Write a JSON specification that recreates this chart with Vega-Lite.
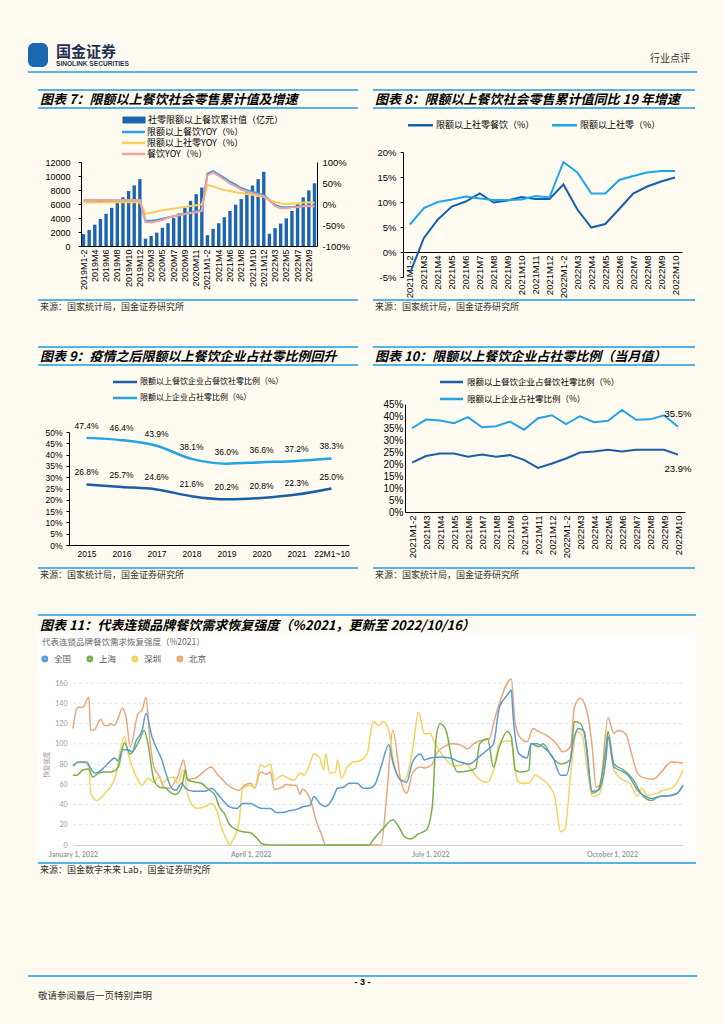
{
"$schema": "https://vega.github.io/schema/vega-lite/v6.json",
"background": "#fffbf0",
"padding": {"left": 28, "top": 43, "right": 27, "bottom": 25},
"spacing": 0,
"resolve": {"scale": {"color": "independent", "fill": "independent", "stroke": "independent"}, "legend": {"color": "independent", "fill": "independent", "stroke": "independent"}},
"config": {
  "view": {"stroke": null},
  "axis": {"grid": false, "labelFont": "Liberation Sans", "labelColor": "#000", "domainColor": "#000", "tickColor": "#000", "titleFont": "Noto Sans CJK SC"},
  "legend": {"labelFont": "Noto Sans CJK SC", "labelColor": "#000", "padding": 0},
  "title": {"font": "Noto Sans CJK SC"}
},
"vconcat": [
  {"spacing": 3, "vconcat": [
    {"spacing": 8, "hconcat": [
      {"width": 20, "height": 24, "view": {"fill": "#1b67b2", "cornerRadius": 6}, "data": {"values": []}, "mark": "point", "encoding": {}},
      {"width": 100, "height": 1, "data": {"values": []}, "mark": "point", "encoding": {},
       "title": {"text": "国金证券", "subtitle": "SINOLINK SECURITIES", "orient": "bottom", "anchor": "start", "frame": "group", "offset": 1, "fontSize": 15, "fontWeight": "bold", "color": "#1d2f55", "subtitleFont": "Liberation Sans", "subtitleFontSize": 6.6, "subtitleFontWeight": "bold", "subtitleColor": "#1d2f55", "subtitlePadding": 1}},
      {"width": 526, "height": 10, "data": {"values": []}, "mark": "point", "encoding": {},
       "title": {"text": "行业点评", "orient": "bottom", "anchor": "end", "frame": "group", "offset": 1, "fontSize": 10, "fontWeight": "normal", "color": "#333"}}
    ]},
    {"width": 669, "height": 2, "view": {"fill": "#52b4e8"}, "data": {"values": []}, "mark": "point", "encoding": {}}
  ]},
  {"width": 1, "height": 16, "data": {"values": []}, "mark": "point", "encoding": {}},
  {"columns": 4, "align": "each", "spacing": {"row": 0, "column": 0},
   "resolve": {"scale": {"color": "independent", "fill": "independent", "stroke": "independent"}, "legend": {"color": "independent", "fill": "independent", "stroke": "independent"}},
   "concat": [
    {"width": 10, "height": 1, "data": {"values": []}, "mark": "point", "encoding": {}},
    {"width": 320, "height": 2, "view": {"fill": "#52b4e8"}, "data": {"values": []}, "mark": "point", "encoding": {},
     "title": {"text": "图表 7：限额以上餐饮社会零售累计值及增速", "orient": "bottom", "anchor": "start", "frame": "group", "offset": 3, "fontSize": 13, "fontWeight": "bold", "fontStyle": "italic", "color": "#000", "dx": 2}},
    {"width": 15, "height": 1, "data": {"values": []}, "mark": "point", "encoding": {}},
    {"width": 322, "height": 2, "view": {"fill": "#52b4e8"}, "data": {"values": []}, "mark": "point", "encoding": {},
     "title": {"text": "图表 8：限额以上餐饮社会零售累计值同比 19 年增速", "orient": "bottom", "anchor": "start", "frame": "group", "offset": 3, "fontSize": 13, "fontWeight": "bold", "fontStyle": "italic", "color": "#000", "dx": 2}},
    {"width": 10, "height": 1, "data": {"values": []}, "mark": "point", "encoding": {}},
    {"width": 320, "height": 2, "view": {"fill": "#52b4e8"}, "data": {"values": []}, "mark": "point", "encoding": {}},
    {"width": 15, "height": 1, "data": {"values": []}, "mark": "point", "encoding": {}},
    {"width": 322, "height": 2, "view": {"fill": "#52b4e8"}, "data": {"values": []}, "mark": "point", "encoding": {}},
    {"width": 10, "height": 1, "data": {"values": []}, "mark": "point", "encoding": {}},
    {"width": 279, "height": 190,
     "data": {"values": [
      {"m":"2019M1-2","v":1700,"限额以上餐饮YOY（%）":7.9,"限额以上社零YOY（%）":3.9,"餐饮YOY（%）":9.7},
      {"m":"2019M3","v":2300,"限额以上餐饮YOY（%）":7.6,"限额以上社零YOY（%）":3.8,"餐饮YOY（%）":9.6},
      {"m":"2019M4","v":3050,"限额以上餐饮YOY（%）":7.5,"限额以上社零YOY（%）":3.6,"餐饮YOY（%）":9.5},
      {"m":"2019M5","v":3850,"限额以上餐饮YOY（%）":7.4,"限额以上社零YOY（%）":3.8,"餐饮YOY（%）":9.5},
      {"m":"2019M6","v":4600,"限额以上餐饮YOY（%）":7.3,"限额以上社零YOY（%）":4.2,"餐饮YOY（%）":9.4},
      {"m":"2019M7","v":5450,"限额以上餐饮YOY（%）":7.3,"限额以上社零YOY（%）":4.0,"餐饮YOY（%）":9.4},
      {"m":"2019M8","v":6250,"限额以上餐饮YOY（%）":7.2,"限额以上社零YOY（%）":4.0,"餐饮YOY（%）":9.4},
      {"m":"2019M9","v":6950,"限额以上餐饮YOY（%）":7.2,"限额以上社零YOY（%）":4.0,"餐饮YOY（%）":9.4},
      {"m":"2019M10","v":7850,"限额以上餐饮YOY（%）":7.2,"限额以上社零YOY（%）":4.2,"餐饮YOY（%）":9.4},
      {"m":"2019M11","v":8650,"限额以上餐饮YOY（%）":7.1,"限额以上社零YOY（%）":4.2,"餐饮YOY（%）":9.4},
      {"m":"2019M12","v":9550,"限额以上餐饮YOY（%）":7.1,"限额以上社零YOY（%）":4.0,"餐饮YOY（%）":9.4},
      {"m":"2020M1-2","v":1050,"限额以上餐饮YOY（%）":-40,"限额以上社零YOY（%）":-23,"餐饮YOY（%）":-43.1},
      {"m":"2020M3","v":1430,"限额以上餐饮YOY（%）":-40,"限额以上社零YOY（%）":-21,"餐饮YOY（%）":-44.3},
      {"m":"2020M4","v":1900,"限额以上餐饮YOY（%）":-38,"限额以上社零YOY（%）":-18,"餐饮YOY（%）":-41.3},
      {"m":"2020M5","v":2600,"限额以上餐饮YOY（%）":-35,"限额以上社零YOY（%）":-15,"餐饮YOY（%）":-38.2},
      {"m":"2020M6","v":3250,"限额以上餐饮YOY（%）":-32,"限额以上社零YOY（%）":-13,"餐饮YOY（%）":-32.8},
      {"m":"2020M7","v":4000,"限额以上餐饮YOY（%）":-29,"限额以上社零YOY（%）":-11,"餐饮YOY（%）":-29.6},
      {"m":"2020M8","v":4650,"限额以上餐饮YOY（%）":-26,"限额以上社零YOY（%）":-9,"餐饮YOY（%）":-26.6},
      {"m":"2020M9","v":5450,"限额以上餐饮YOY（%）":-23,"限额以上社零YOY（%）":-7,"餐饮YOY（%）":-23.9},
      {"m":"2020M10","v":6450,"限额以上餐饮YOY（%）":-20,"限额以上社零YOY（%）":-5,"餐饮YOY（%）":-21.2},
      {"m":"2020M11","v":7400,"限额以上餐饮YOY（%）":-17,"限额以上社零YOY（%）":-3,"餐饮YOY（%）":-19.6},
      {"m":"2020M12","v":8350,"限额以上餐饮YOY（%）":-14,"限额以上社零YOY（%）":-1,"餐饮YOY（%）":-16.6},
      {"m":"2021M1-2","v":1550,"限额以上餐饮YOY（%）":72,"限额以上社零YOY（%）":45,"餐饮YOY（%）":68.9},
      {"m":"2021M3","v":2450,"限额以上餐饮YOY（%）":78,"限额以上社零YOY（%）":42,"餐饮YOY（%）":75.2},
      {"m":"2021M4","v":3250,"限额以上餐饮YOY（%）":70,"限额以上社零YOY（%）":37,"餐饮YOY（%）":67.0},
      {"m":"2021M5","v":4100,"限额以上餐饮YOY（%）":62,"限额以上社零YOY（%）":33,"餐饮YOY（%）":58.1},
      {"m":"2021M6","v":5000,"限额以上餐饮YOY（%）":53,"限额以上社零YOY（%）":31,"餐饮YOY（%）":48.6},
      {"m":"2021M7","v":5900,"限额以上餐饮YOY（%）":46,"限额以上社零YOY（%）":28,"餐饮YOY（%）":42.3},
      {"m":"2021M8","v":6700,"限额以上餐饮YOY（%）":38,"限额以上社零YOY（%）":26,"餐饮YOY（%）":34.6},
      {"m":"2021M9","v":7700,"限额以上餐饮YOY（%）":33,"限额以上社零YOY（%）":24,"餐饮YOY（%）":29.8},
      {"m":"2021M10","v":8650,"限额以上餐饮YOY（%）":29,"限额以上社零YOY（%）":22,"餐饮YOY（%）":25.7},
      {"m":"2021M11","v":9550,"限额以上餐饮YOY（%）":25,"限额以上社零YOY（%）":19,"餐饮YOY（%）":22.4},
      {"m":"2021M12","v":10600,"限额以上餐饮YOY（%）":21,"限额以上社零YOY（%）":17,"餐饮YOY（%）":18.6},
      {"m":"2022M1-2","v":1750,"限额以上餐饮YOY（%）":10,"限额以上社零YOY（%）":9,"餐饮YOY（%）":8.9},
      {"m":"2022M3","v":2550,"限额以上餐饮YOY（%）":-2,"限额以上社零YOY（%）":5,"餐饮YOY（%）":-5.0},
      {"m":"2022M4","v":3200,"限额以上餐饮YOY（%）":-7,"限额以上社零YOY（%）":1,"餐饮YOY（%）":-10.2},
      {"m":"2022M5","v":3950,"限额以上餐饮YOY（%）":-8,"限额以上社零YOY（%）":0,"餐饮YOY（%）":-10.1},
      {"m":"2022M6","v":5000,"限额以上餐饮YOY（%）":-7,"限额以上社零YOY（%）":1,"餐饮YOY（%）":-7.7},
      {"m":"2022M7","v":5950,"限额以上餐饮YOY（%）":-6,"限额以上社零YOY（%）":2,"餐饮YOY（%）":-7.5},
      {"m":"2022M8","v":6950,"限额以上餐饮YOY（%）":-4.5,"限额以上社零YOY（%）":3.5,"餐饮YOY（%）":-5.6},
      {"m":"2022M9","v":7950,"限额以上餐饮YOY（%）":-4,"限额以上社零YOY（%）":4,"餐饮YOY（%）":-5.0},
      {"m":"2022M10","v":8950,"限额以上餐饮YOY（%）":-4.5,"限额以上社零YOY（%）":3,"餐饮YOY（%）":-5.8}
     ]},
     "encoding": {"x": {"field": "m", "type": "nominal", "sort": null, "scale": {"range": [43, 279], "paddingInner": 0.4, "paddingOuter": 0.15},
       "axis": {"title": null, "labelAngle": -90, "labelFontSize": 9, "labelPadding": 3, "ticks": false, "offset": -53,
         "values": ["2019M1-2","2019M4","2019M6","2019M8","2019M10","2019M12","2020M3","2020M5","2020M7","2020M9","2020M11","2021M1-2","2021M4","2021M6","2021M8","2021M10","2021M12","2022M3","2022M5","2022M7","2022M9"]}}},
     "layer": [
      {"mark": {"type": "bar"},
       "encoding": {
        "y": {"field": "v", "type": "quantitative", "scale": {"domain": [0, 12000], "nice": false, "range": [137, 53]},
          "axis": {"orient": "left", "offset": -43, "values": [0,2000,4000,6000,8000,10000,12000], "format": "d", "labelFontSize": 9, "tickSize": 3, "labelPadding": 8, "title": null}},
        "fill": {"datum": "社零限额以上餐饮累计值（亿元）", "scale": {"range": ["#1b65b1"]},
          "legend": {"orient": "none", "legendX": 91.5, "legendY": 6.5, "title": null, "symbolType": "M-3,-0.9H3V0.9H-3Z", "symbolSize": 59, "symbolStrokeWidth": 0, "labelFontSize": 9, "labelOffset": 9.5}}
       }},
      {"transform": [{"fold": ["限额以上餐饮YOY（%）", "限额以上社零YOY（%）", "餐饮YOY（%）"], "as": ["s", "p"]}],
       "mark": {"type": "line", "strokeWidth": 2},
       "encoding": {
        "y": {"field": "p", "type": "quantitative", "scale": {"domain": [-100, 100], "nice": false, "range": [137, 53]},
          "axis": {"orient": "right", "values": [-100,-50,0,50,100], "labelExpr": "datum.value + '%'", "labelFontSize": 9.5, "ticks": false, "labelPadding": 5, "title": null}},
        "stroke": {"field": "s", "type": "nominal", "scale": {"domain": ["限额以上餐饮YOY（%）", "限额以上社零YOY（%）", "餐饮YOY（%）"], "range": ["#2aa0e4", "#f6d05a", "#f2a09c"]},
          "legend": {"orient": "none", "legendX": 90, "legendY": 17.5, "title": null, "symbolType": "M-3,0H3", "symbolSize": 59, "symbolStrokeWidth": 2.5, "labelFontSize": 9, "labelOffset": 8, "rowPadding": 0}}
       }}
     ],
     "resolve": {"scale": {"y": "independent"}}
    },
    {"width": 15, "height": 1, "data": {"values": []}, "mark": "point", "encoding": {}},
    {"width": 309, "height": 190,
     "data": {"values": [
      {"m":"2021M1-2","限额以上社零餐饮（%）":-4.2,"限额以上社零（%）":5.5},
      {"m":"2021M3","限额以上社零餐饮（%）":2.8,"限额以上社零（%）":8.8},
      {"m":"2021M4","限额以上社零餐饮（%）":6.5,"限额以上社零（%）":10.0},
      {"m":"2021M5","限额以上社零餐饮（%）":9.1,"限额以上社零（%）":10.5},
      {"m":"2021M6","限额以上社零餐饮（%）":10.1,"限额以上社零（%）":11.1},
      {"m":"2021M7","限额以上社零餐饮（%）":11.7,"限额以上社零（%）":10.7},
      {"m":"2021M8","限额以上社零餐饮（%）":9.9,"限额以上社零（%）":10.4},
      {"m":"2021M9","限额以上社零餐饮（%）":10.3,"限额以上社零（%）":10.4},
      {"m":"2021M10","限额以上社零餐饮（%）":11.0,"限额以上社零（%）":10.5},
      {"m":"2021M11","限额以上社零餐饮（%）":10.6,"限额以上社零（%）":11.2},
      {"m":"2021M12","限额以上社零餐饮（%）":10.6,"限额以上社零（%）":10.9},
      {"m":"2022M1-2","限额以上社零餐饮（%）":13.5,"限额以上社零（%）":18.0},
      {"m":"2022M3","限额以上社零餐饮（%）":8.5,"限额以上社零（%）":15.9},
      {"m":"2022M4","限额以上社零餐饮（%）":4.9,"限额以上社零（%）":11.7},
      {"m":"2022M5","限额以上社零餐饮（%）":5.6,"限额以上社零（%）":11.7},
      {"m":"2022M6","限额以上社零餐饮（%）":8.6,"限额以上社零（%）":14.4},
      {"m":"2022M7","限额以上社零餐饮（%）":11.7,"限额以上社零（%）":15.2},
      {"m":"2022M8","限额以上社零餐饮（%）":13.1,"限额以上社零（%）":15.9},
      {"m":"2022M9","限额以上社零餐饮（%）":14.1,"限额以上社零（%）":16.2},
      {"m":"2022M10","限额以上社零餐饮（%）":14.9,"限额以上社零（%）":16.2}
     ]},
     "transform": [{"fold": ["限额以上社零餐饮（%）", "限额以上社零（%）"], "as": ["s", "p"]}],
     "mark": {"type": "line", "strokeWidth": 2},
     "encoding": {
      "x": {"field": "m", "type": "nominal", "sort": null, "scale": {"range": [30, 309], "padding": 0.5},
        "axis": {"title": null, "labelAngle": -90, "labelFontSize": 9.5, "labelPadding": 3, "ticks": false, "offset": -47}},
      "y": {"field": "p", "type": "quantitative", "scale": {"domain": [-5, 20], "nice": false, "range": [168, 43]},
        "axis": {"offset": -30, "values": [-5,0,5,10,15,20], "labelExpr": "datum.value + '%'", "labelFontSize": 9.5, "tickSize": 3, "labelPadding": 4, "title": null}},
      "stroke": {"field": "s", "type": "nominal", "scale": {"domain": ["限额以上社零餐饮（%）", "限额以上社零（%）"], "range": ["#1560ac", "#1ea6ea"]},
        "legend": {"orient": "none", "direction": "horizontal", "legendX": 42, "legendY": 10.5, "title": null, "symbolType": "M-3,0H3", "symbolSize": 69, "symbolStrokeWidth": 2.5, "labelFontSize": 9, "labelOffset": 10, "columnPadding": 12}}
     }
    },
    {"width": 10, "height": 1, "data": {"values": []}, "mark": "point", "encoding": {}},
    {"width": 320, "height": 2, "view": {"fill": "#52b4e8"}, "data": {"values": []}, "mark": "point", "encoding": {},
     "title": {"text": "来源：国家统计局，国金证券研究所", "orient": "bottom", "anchor": "start", "frame": "group", "offset": 2, "fontSize": 9, "fontWeight": "normal", "color": "#333", "dx": 2}},
    {"width": 15, "height": 1, "data": {"values": []}, "mark": "point", "encoding": {}},
    {"width": 322, "height": 2, "view": {"fill": "#52b4e8"}, "data": {"values": []}, "mark": "point", "encoding": {},
     "title": {"text": "来源：国家统计局，国金证券研究所", "orient": "bottom", "anchor": "start", "frame": "group", "offset": 2, "fontSize": 9, "fontWeight": "normal", "color": "#333", "dx": 2}}
  ]},
  {"width": 1, "height": 34, "data": {"values": []}, "mark": "point", "encoding": {}},
  {"columns": 4, "align": "each", "spacing": {"row": 0, "column": 0},
   "resolve": {"scale": {"color": "independent", "fill": "independent", "stroke": "independent"}, "legend": {"color": "independent", "fill": "independent", "stroke": "independent"}},
   "concat": [
    {"width": 10, "height": 1, "data": {"values": []}, "mark": "point", "encoding": {}},
    {"width": 320, "height": 2, "view": {"fill": "#52b4e8"}, "data": {"values": []}, "mark": "point", "encoding": {},
     "title": {"text": "图表 9：疫情之后限额以上餐饮企业占社零比例回升", "orient": "bottom", "anchor": "start", "frame": "group", "offset": 3, "fontSize": 13, "fontWeight": "bold", "fontStyle": "italic", "color": "#000", "dx": 2}},
    {"width": 15, "height": 1, "data": {"values": []}, "mark": "point", "encoding": {}},
    {"width": 322, "height": 2, "view": {"fill": "#52b4e8"}, "data": {"values": []}, "mark": "point", "encoding": {},
     "title": {"text": "图表 10：限额以上餐饮企业占社零比例（当月值）", "orient": "bottom", "anchor": "start", "frame": "group", "offset": 3, "fontSize": 13, "fontWeight": "bold", "fontStyle": "italic", "color": "#000", "dx": 2}},
    {"width": 10, "height": 1, "data": {"values": []}, "mark": "point", "encoding": {}},
    {"width": 320, "height": 2, "view": {"fill": "#52b4e8"}, "data": {"values": []}, "mark": "point", "encoding": {}},
    {"width": 15, "height": 1, "data": {"values": []}, "mark": "point", "encoding": {}},
    {"width": 322, "height": 2, "view": {"fill": "#52b4e8"}, "data": {"values": []}, "mark": "point", "encoding": {}},
    {"width": 10, "height": 1, "data": {"values": []}, "mark": "point", "encoding": {}},
    {"width": 320, "height": 201,
     "data": {"values": [
      {"y":"2015","限额以上餐饮企业占餐饮社零比例（%）":0.268,"限额以上企业占社零比例（%）":0.474},
      {"y":"2016","限额以上餐饮企业占餐饮社零比例（%）":0.257,"限额以上企业占社零比例（%）":0.464},
      {"y":"2017","限额以上餐饮企业占餐饮社零比例（%）":0.246,"限额以上企业占社零比例（%）":0.439},
      {"y":"2018","限额以上餐饮企业占餐饮社零比例（%）":0.216,"限额以上企业占社零比例（%）":0.381},
      {"y":"2019","限额以上餐饮企业占餐饮社零比例（%）":0.202,"限额以上企业占社零比例（%）":0.360},
      {"y":"2020","限额以上餐饮企业占餐饮社零比例（%）":0.208,"限额以上企业占社零比例（%）":0.366},
      {"y":"2021","限额以上餐饮企业占餐饮社零比例（%）":0.223,"限额以上企业占社零比例（%）":0.372},
      {"y":"22M1~10","限额以上餐饮企业占餐饮社零比例（%）":0.250,"限额以上企业占社零比例（%）":0.383}
     ]},
     "transform": [{"fold": ["限额以上餐饮企业占餐饮社零比例（%）", "限额以上企业占社零比例（%）"], "as": ["s", "p"]}],
     "encoding": {
      "x": {"field": "y", "type": "nominal", "sort": null, "scale": {"range": [31, 311], "padding": 0.5},
        "axis": {"title": null, "labelAngle": 0, "labelFontSize": 8.5, "labelPadding": 4, "ticks": false, "offset": -22}},
      "y": {"field": "p", "type": "quantitative", "scale": {"domain": [0, 0.5], "nice": false, "range": [179, 66]},
        "axis": {"offset": -31, "values": [0,0.05,0.1,0.15,0.2,0.25,0.3,0.35,0.4,0.45,0.5], "format": ".0%", "labelFontSize": 8.5, "tickSize": 3, "labelPadding": 4, "title": null}}
     },
     "layer": [
      {"mark": {"type": "line", "strokeWidth": 2.5, "interpolate": "monotone"},
       "encoding": {"stroke": {"field": "s", "type": "nominal", "scale": {"domain": ["限额以上餐饮企业占餐饮社零比例（%）", "限额以上企业占社零比例（%）"], "range": ["#1a5ea8", "#22a3e6"]},
         "legend": {"orient": "none", "legendX": 81.5, "legendY": 10.5, "title": null, "symbolType": "M-3,0H3", "symbolSize": 64, "symbolStrokeWidth": 2.5, "labelFontSize": 8, "labelOffset": 9.5, "rowPadding": 5}}}},
      {"mark": {"type": "text", "dy": -12, "fontSize": 8.5, "font": "Liberation Sans", "color": "#000"},
       "encoding": {"text": {"field": "p", "type": "quantitative", "format": ".1%"}}}
     ]
    },
    {"width": 15, "height": 1, "data": {"values": []}, "mark": "point", "encoding": {}},
    {"width": 322, "height": 201,
     "data": {"values": [
      {"m":"2021M1-2","限额以上餐饮企业占餐饮社零比例（%）":0.206,"限额以上企业占社零比例（%）":0.349},
      {"m":"2021M3","限额以上餐饮企业占餐饮社零比例（%）":0.233,"限额以上企业占社零比例（%）":0.385},
      {"m":"2021M4","限额以上餐饮企业占餐饮社零比例（%）":0.244,"限额以上企业占社零比例（%）":0.381},
      {"m":"2021M5","限额以上餐饮企业占餐饮社零比例（%）":0.244,"限额以上企业占社零比例（%）":0.370},
      {"m":"2021M6","限额以上餐饮企业占餐饮社零比例（%）":0.230,"限额以上企业占社零比例（%）":0.395},
      {"m":"2021M7","限额以上餐饮企业占餐饮社零比例（%）":0.240,"限额以上企业占社零比例（%）":0.353},
      {"m":"2021M8","限额以上餐饮企业占餐饮社零比例（%）":0.230,"限额以上企业占社零比例（%）":0.357},
      {"m":"2021M9","限额以上餐饮企业占餐饮社零比例（%）":0.237,"限额以上企业占社零比例（%）":0.377},
      {"m":"2021M10","限额以上餐饮企业占餐饮社零比例（%）":0.217,"限额以上企业占社零比例（%）":0.343},
      {"m":"2021M11","限额以上餐饮企业占餐饮社零比例（%）":0.184,"限额以上企业占社零比例（%）":0.391},
      {"m":"2021M12","限额以上餐饮企业占餐饮社零比例（%）":0.202,"限额以上企业占社零比例（%）":0.403},
      {"m":"2022M1-2","限额以上餐饮企业占餐饮社零比例（%）":0.223,"限额以上企业占社零比例（%）":0.366},
      {"m":"2022M3","限额以上餐饮企业占餐饮社零比例（%）":0.248,"限额以上企业占社零比例（%）":0.399},
      {"m":"2022M4","限额以上餐饮企业占餐饮社零比例（%）":0.252,"限额以上企业占社零比例（%）":0.374},
      {"m":"2022M5","限额以上餐饮企业占餐饮社零比例（%）":0.259,"限额以上企业占社零比例（%）":0.380},
      {"m":"2022M6","限额以上餐饮企业占餐饮社零比例（%）":0.252,"限额以上企业占社零比例（%）":0.425},
      {"m":"2022M7","限额以上餐饮企业占餐饮社零比例（%）":0.259,"限额以上企业占社零比例（%）":0.384},
      {"m":"2022M8","限额以上餐饮企业占餐饮社零比例（%）":0.259,"限额以上企业占社零比例（%）":0.386},
      {"m":"2022M9","限额以上餐饮企业占餐饮社零比例（%）":0.259,"限额以上企业占社零比例（%）":0.403},
      {"m":"2022M10","限额以上餐饮企业占餐饮社零比例（%）":0.239,"限额以上企业占社零比例（%）":0.355}
     ]},
     "transform": [{"fold": ["限额以上餐饮企业占餐饮社零比例（%）", "限额以上企业占社零比例（%）"], "as": ["s", "p"]}],
     "encoding": {
      "x": {"field": "m", "type": "nominal", "sort": null, "scale": {"range": [32, 312], "padding": 0.5},
        "axis": {"title": null, "labelAngle": -90, "labelFontSize": 9.5, "labelPadding": 3, "ticks": false, "offset": -55}},
      "y": {"field": "p", "type": "quantitative", "scale": {"domain": [0, 0.45], "nice": false, "range": [146, 38]},
        "axis": {"offset": -32, "values": [0,0.05,0.1,0.15,0.2,0.25,0.3,0.35,0.4,0.45], "format": ".0%", "labelFontSize": 10, "tickSize": 0, "labelPadding": 2, "title": null}}
     },
     "layer": [
      {"mark": {"type": "line", "strokeWidth": 2},
       "encoding": {"stroke": {"field": "s", "type": "nominal", "scale": {"domain": ["限额以上餐饮企业占餐饮社零比例（%）", "限额以上企业占社零比例（%）"], "range": ["#1a5ea8", "#22a3e6"]},
         "legend": {"orient": "none", "legendX": 73, "legendY": 10.5, "title": null, "symbolType": "M-3,0H3", "symbolSize": 59, "symbolStrokeWidth": 2.5, "labelFontSize": 8.5, "labelOffset": 10, "rowPadding": 6}}}},
      {"transform": [{"filter": "datum.m == '2022M10' && datum.s == '限额以上企业占社零比例（%）'"}],
       "mark": {"type": "text", "dy": -13, "fontSize": 9.5, "font": "Liberation Sans", "color": "#000"},
       "encoding": {"text": {"field": "p", "type": "quantitative", "format": ".1%"}}},
      {"transform": [{"filter": "datum.m == '2022M10' && datum.s == '限额以上餐饮企业占餐饮社零比例（%）'"}],
       "mark": {"type": "text", "dy": 14, "fontSize": 9.5, "font": "Liberation Sans", "color": "#000"},
       "encoding": {"text": {"field": "p", "type": "quantitative", "format": ".1%"}}}
     ]
    },
    {"width": 10, "height": 1, "data": {"values": []}, "mark": "point", "encoding": {}},
    {"width": 320, "height": 2, "view": {"fill": "#52b4e8"}, "data": {"values": []}, "mark": "point", "encoding": {},
     "title": {"text": "来源：国家统计局，国金证券研究所", "orient": "bottom", "anchor": "start", "frame": "group", "offset": 2, "fontSize": 9, "fontWeight": "normal", "color": "#333", "dx": 2}},
    {"width": 15, "height": 1, "data": {"values": []}, "mark": "point", "encoding": {}},
    {"width": 322, "height": 2, "view": {"fill": "#52b4e8"}, "data": {"values": []}, "mark": "point", "encoding": {},
     "title": {"text": "来源：国家统计局，国金证券研究所", "orient": "bottom", "anchor": "start", "frame": "group", "offset": 2, "fontSize": 9, "fontWeight": "normal", "color": "#333", "dx": 2}}
  ]},
  {"width": 1, "height": 34, "data": {"values": []}, "mark": "point", "encoding": {}},
  {"columns": 2, "align": "each", "spacing": {"row": 0, "column": 0},
   "resolve": {"scale": {"color": "independent"}, "legend": {"color": "independent"}},
   "concat": [
    {"width": 10, "height": 1, "data": {"values": []}, "mark": "point", "encoding": {}},
    {"width": 658, "height": 2, "view": {"fill": "#52b4e8"}, "data": {"values": []}, "mark": "point", "encoding": {},
     "title": {"text": "图表 11：代表连锁品牌餐饮需求恢复强度（%2021，更新至 2022/10/16）", "orient": "bottom", "anchor": "start", "frame": "group", "offset": 4, "fontSize": 13, "fontWeight": "bold", "fontStyle": "italic", "color": "#000", "dx": 2}},
    {"width": 10, "height": 1, "data": {"values": []}, "mark": "point", "encoding": {}},
    {"width": 658, "height": 229,
     "view": {"fill": "#ffffff"},
     "title": {"text": "代表连锁品牌餐饮需求恢复强度（%2021）", "anchor": "start", "frame": "group", "dx": 4, "offset": -13.5, "fontSize": 8.5, "fontWeight": "normal", "color": "#666"},
     "layer": [
      {"data": {"values": [{"g":20},{"g":40},{"g":60},{"g":80},{"g":100},{"g":120},{"g":140},{"g":160}]},
       "mark": {"type": "rule", "strokeDash": [3, 3], "color": "#e3e3e3", "strokeWidth": 1},
       "encoding": {
        "y": {"field": "g", "type": "quantitative", "scale": {"domain": [0, 160], "nice": false, "range": [212, 50]},
          "axis": {"offset": -35, "values": [0,20,40,60,80,100,120,140,160], "title": "恢复强度", "titleFontSize": 6.5, "titleColor": "#999", "titleFontWeight": "normal", "titlePadding": 5, "labelFontSize": 7, "labelColor": "#999", "labelFont": "Lato", "domain": false, "ticks": false, "labelPadding": 6}},
        "x": {"datum": 0, "type": "quantitative", "scale": {"domain": [0, 309], "nice": false, "zero": false, "range": [35, 645]},
          "axis": {"offset": -17, "values": [0, 90, 181, 273], "labelExpr": "datum.value == 0 ? 'January 1, 2022' : datum.value == 90 ? 'April 1, 2022' : datum.value == 181 ? 'July 1, 2022' : 'October 1, 2022'", "title": null, "labelFlush": false, "labelFontSize": 7, "labelFontWeight": "bold", "labelColor": "#9a9a9a", "labelFont": "Lato", "domainColor": "#d0d0d0", "ticks": false, "labelPadding": 5}},
        "x2": {"datum": 309}}},
      {"data": {"values": [
        {"c":"北京","d":0,"v":115},{"c":"北京","d":2,"v":135},{"c":"北京","d":3,"v":136},{"c":"北京","d":5,"v":136},{"c":"北京","d":8,"v":146},{"c":"北京","d":9,"v":113},{"c":"北京","d":11,"v":114},{"c":"北京","d":14,"v":124},{"c":"北京","d":16,"v":118},{"c":"北京","d":18,"v":118},{"c":"北京","d":19,"v":120},{"c":"北京","d":21,"v":118},{"c":"北京","d":23,"v":126},{"c":"北京","d":25,"v":135},{"c":"北京","d":27,"v":125},{"c":"北京","d":29,"v":97},{"c":"北京","d":33,"v":130},{"c":"北京","d":35,"v":133},{"c":"北京","d":37,"v":146},{"c":"北京","d":39,"v":103},{"c":"北京","d":41,"v":77},{"c":"北京","d":44,"v":67},{"c":"北京","d":46,"v":57},{"c":"北京","d":49,"v":56},{"c":"北京","d":52,"v":64},{"c":"北京","d":53,"v":67},{"c":"北京","d":55,"v":80},{"c":"北京","d":56,"v":84},{"c":"北京","d":58,"v":65},{"c":"北京","d":62,"v":66},{"c":"北京","d":66,"v":72},{"c":"北京","d":70,"v":77},{"c":"北京","d":73,"v":70},{"c":"北京","d":75,"v":66},{"c":"北京","d":78,"v":60},{"c":"北京","d":81,"v":56},{"c":"北京","d":84,"v":54},{"c":"北京","d":87,"v":59},{"c":"北京","d":90,"v":61},{"c":"北京","d":92,"v":56},{"c":"北京","d":95,"v":72},{"c":"北京","d":98,"v":70},{"c":"北京","d":100,"v":72},{"c":"北京","d":102,"v":55},{"c":"北京","d":106,"v":57},{"c":"北京","d":108,"v":60},{"c":"北京","d":111,"v":59},{"c":"北京","d":113,"v":59},{"c":"北京","d":115,"v":50},{"c":"北京","d":116,"v":55},{"c":"北京","d":119,"v":50},{"c":"北京","d":121,"v":40},{"c":"北京","d":123,"v":25},{"c":"北京","d":126,"v":10},{"c":"北京","d":128,"v":0},{"c":"北京","d":156,"v":0},{"c":"北京","d":159,"v":51},{"c":"北京","d":162,"v":113},{"c":"北京","d":166,"v":64},{"c":"北京","d":169,"v":51},{"c":"北京","d":172,"v":71},{"c":"北京","d":176,"v":77},{"c":"北京","d":178,"v":76},{"c":"北京","d":182,"v":80},{"c":"北京","d":184,"v":90},{"c":"北京","d":188,"v":97},{"c":"北京","d":192,"v":100},{"c":"北京","d":196,"v":99},{"c":"北京","d":200,"v":95},{"c":"北京","d":203,"v":100},{"c":"北京","d":206,"v":103},{"c":"北京","d":211,"v":105},{"c":"北京","d":213,"v":120},{"c":"北京","d":216,"v":140},{"c":"北京","d":222,"v":164},{"c":"北京","d":224,"v":120},{"c":"北京","d":227,"v":105},{"c":"北京","d":230,"v":102},{"c":"北京","d":233,"v":115},{"c":"北京","d":236,"v":112},{"c":"北京","d":240,"v":108},{"c":"北京","d":245,"v":100},{"c":"北京","d":248,"v":92},{"c":"北京","d":252,"v":97},{"c":"北京","d":254,"v":136},{"c":"北京","d":257,"v":145},{"c":"北京","d":259,"v":140},{"c":"北京","d":261,"v":126},{"c":"北京","d":263,"v":97},{"c":"北京","d":265,"v":57},{"c":"北京","d":267,"v":59},{"c":"北京","d":271,"v":126},{"c":"北京","d":274,"v":110},{"c":"北京","d":276,"v":113},{"c":"北京","d":280,"v":110},{"c":"北京","d":282,"v":97},{"c":"北京","d":286,"v":71},{"c":"北京","d":288,"v":67},{"c":"北京","d":294,"v":65},{"c":"北京","d":298,"v":72},{"c":"北京","d":303,"v":82},{"c":"北京","d":309,"v":81},
        {"c":"深圳","d":0,"v":78},{"c":"深圳","d":2,"v":82},{"c":"深圳","d":6,"v":81},{"c":"深圳","d":8,"v":77},{"c":"深圳","d":9,"v":51},{"c":"深圳","d":12,"v":44},{"c":"深圳","d":14,"v":46},{"c":"深圳","d":17,"v":53},{"c":"深圳","d":19,"v":57},{"c":"深圳","d":22,"v":71},{"c":"深圳","d":24,"v":94},{"c":"深圳","d":26,"v":107},{"c":"深圳","d":28,"v":90},{"c":"深圳","d":30,"v":77},{"c":"深圳","d":33,"v":64},{"c":"深圳","d":35,"v":59},{"c":"深圳","d":38,"v":66},{"c":"深圳","d":41,"v":62},{"c":"深圳","d":43,"v":67},{"c":"深圳","d":46,"v":62},{"c":"深圳","d":48,"v":66},{"c":"深圳","d":51,"v":67},{"c":"深圳","d":53,"v":61},{"c":"深圳","d":56,"v":74},{"c":"深圳","d":58,"v":51},{"c":"深圳","d":61,"v":38},{"c":"深圳","d":63,"v":36},{"c":"深圳","d":67,"v":38},{"c":"深圳","d":70,"v":41},{"c":"深圳","d":73,"v":33},{"c":"深圳","d":75,"v":18},{"c":"深圳","d":78,"v":5},{"c":"深圳","d":79,"v":0},{"c":"深圳","d":81,"v":5},{"c":"深圳","d":84,"v":21},{"c":"深圳","d":86,"v":56},{"c":"深圳","d":90,"v":59},{"c":"深圳","d":92,"v":56},{"c":"深圳","d":95,"v":79},{"c":"深圳","d":97,"v":77},{"c":"深圳","d":100,"v":80},{"c":"深圳","d":102,"v":64},{"c":"深圳","d":106,"v":69},{"c":"深圳","d":109,"v":66},{"c":"深圳","d":112,"v":64},{"c":"深圳","d":115,"v":71},{"c":"深圳","d":117,"v":69},{"c":"深圳","d":120,"v":80},{"c":"深圳","d":122,"v":90},{"c":"深圳","d":125,"v":86},{"c":"深圳","d":127,"v":74},{"c":"深圳","d":128,"v":90},{"c":"深圳","d":130,"v":71},{"c":"深圳","d":133,"v":72},{"c":"深圳","d":134,"v":84},{"c":"深圳","d":136,"v":66},{"c":"深圳","d":139,"v":77},{"c":"深圳","d":142,"v":82},{"c":"深圳","d":145,"v":83},{"c":"深圳","d":149,"v":90},{"c":"深圳","d":152,"v":122},{"c":"深圳","d":155,"v":118},{"c":"深圳","d":157,"v":122},{"c":"深圳","d":160,"v":113},{"c":"深圳","d":162,"v":87},{"c":"深圳","d":165,"v":67},{"c":"深圳","d":168,"v":64},{"c":"深圳","d":172,"v":94},{"c":"深圳","d":175,"v":131},{"c":"深圳","d":178,"v":110},{"c":"深圳","d":181,"v":110},{"c":"深圳","d":183,"v":102},{"c":"深圳","d":187,"v":89},{"c":"深圳","d":190,"v":82},{"c":"深圳","d":194,"v":78},{"c":"深圳","d":199,"v":80},{"c":"深圳","d":202,"v":74},{"c":"深圳","d":205,"v":66},{"c":"深圳","d":210,"v":62},{"c":"深圳","d":213,"v":74},{"c":"深圳","d":216,"v":100},{"c":"深圳","d":220,"v":103},{"c":"深圳","d":222,"v":102},{"c":"深圳","d":225,"v":64},{"c":"深圳","d":227,"v":61},{"c":"深圳","d":231,"v":61},{"c":"深圳","d":234,"v":69},{"c":"深圳","d":237,"v":66},{"c":"深圳","d":241,"v":59},{"c":"深圳","d":244,"v":48},{"c":"深圳","d":247,"v":13},{"c":"深圳","d":249,"v":15},{"c":"深圳","d":253,"v":87},{"c":"深圳","d":255,"v":112},{"c":"深圳","d":258,"v":108},{"c":"深圳","d":260,"v":82},{"c":"深圳","d":263,"v":48},{"c":"深圳","d":266,"v":49},{"c":"深圳","d":270,"v":87},{"c":"深圳","d":271,"v":108},{"c":"深圳","d":274,"v":74},{"c":"深圳","d":279,"v":64},{"c":"深圳","d":282,"v":61},{"c":"深圳","d":286,"v":48},{"c":"深圳","d":288,"v":56},{"c":"深圳","d":291,"v":49},{"c":"深圳","d":296,"v":51},{"c":"深圳","d":299,"v":54},{"c":"深圳","d":304,"v":57},{"c":"深圳","d":309,"v":74},
        {"c":"上海","d":0,"v":69},{"c":"上海","d":2,"v":69},{"c":"上海","d":5,"v":74},{"c":"上海","d":8,"v":75},{"c":"上海","d":10,"v":67},{"c":"上海","d":13,"v":71},{"c":"上海","d":16,"v":72},{"c":"上海","d":19,"v":72},{"c":"上海","d":23,"v":77},{"c":"上海","d":26,"v":101},{"c":"上海","d":29,"v":90},{"c":"上海","d":31,"v":94},{"c":"上海","d":34,"v":105},{"c":"上海","d":36,"v":113},{"c":"上海","d":38,"v":100},{"c":"上海","d":40,"v":74},{"c":"上海","d":41,"v":64},{"c":"上海","d":44,"v":57},{"c":"上海","d":47,"v":56},{"c":"上海","d":50,"v":51},{"c":"上海","d":52,"v":50},{"c":"上海","d":55,"v":57},{"c":"上海","d":57,"v":74},{"c":"上海","d":58,"v":64},{"c":"上海","d":62,"v":62},{"c":"上海","d":65,"v":61},{"c":"上海","d":68,"v":56},{"c":"上海","d":72,"v":49},{"c":"上海","d":74,"v":38},{"c":"上海","d":77,"v":30},{"c":"上海","d":79,"v":21},{"c":"上海","d":83,"v":15},{"c":"上海","d":86,"v":13},{"c":"上海","d":90,"v":12},{"c":"上海","d":93,"v":7},{"c":"上海","d":96,"v":1},{"c":"上海","d":100,"v":0},{"c":"上海","d":150,"v":0},{"c":"上海","d":152,"v":5},{"c":"上海","d":157,"v":16},{"c":"上海","d":162,"v":25},{"c":"上海","d":165,"v":18},{"c":"上海","d":168,"v":8},{"c":"上海","d":171,"v":6},{"c":"上海","d":175,"v":11},{"c":"上海","d":179,"v":15},{"c":"上海","d":182,"v":38},{"c":"上海","d":184,"v":107},{"c":"上海","d":186,"v":120},{"c":"上海","d":189,"v":113},{"c":"上海","d":192,"v":84},{"c":"上海","d":195,"v":72},{"c":"上海","d":200,"v":73},{"c":"上海","d":204,"v":76},{"c":"上海","d":206,"v":100},{"c":"上海","d":210,"v":105},{"c":"上海","d":213,"v":77},{"c":"上海","d":216,"v":97},{"c":"上海","d":220,"v":112},{"c":"上海","d":222,"v":107},{"c":"上海","d":224,"v":74},{"c":"上海","d":227,"v":72},{"c":"上海","d":231,"v":74},{"c":"上海","d":232,"v":100},{"c":"上海","d":236,"v":97},{"c":"上海","d":238,"v":100},{"c":"上海","d":243,"v":86},{"c":"上海","d":247,"v":80},{"c":"上海","d":252,"v":84},{"c":"上海","d":254,"v":122},{"c":"上海","d":257,"v":120},{"c":"上海","d":260,"v":100},{"c":"上海","d":263,"v":51},{"c":"上海","d":266,"v":54},{"c":"上海","d":270,"v":97},{"c":"上海","d":271,"v":112},{"c":"上海","d":274,"v":80},{"c":"上海","d":279,"v":74},{"c":"上海","d":284,"v":64},{"c":"上海","d":287,"v":53},{"c":"上海","d":289,"v":48},{"c":"上海","d":293,"v":44},{"c":"上海","d":297,"v":48},{"c":"上海","d":303,"v":49},{"c":"上海","d":306,"v":51},{"c":"上海","d":309,"v":59},
        {"c":"全国","d":0,"v":78},{"c":"全国","d":3,"v":82},{"c":"全国","d":7,"v":82},{"c":"全国","d":8,"v":79},{"c":"全国","d":11,"v":71},{"c":"全国","d":13,"v":72},{"c":"全国","d":16,"v":77},{"c":"全国","d":19,"v":83},{"c":"全国","d":21,"v":86},{"c":"全国","d":23,"v":83},{"c":"全国","d":25,"v":94},{"c":"全国","d":28,"v":94},{"c":"全国","d":30,"v":92},{"c":"全国","d":32,"v":103},{"c":"全国","d":35,"v":113},{"c":"全国","d":37,"v":130},{"c":"全国","d":40,"v":107},{"c":"全国","d":42,"v":97},{"c":"全国","d":45,"v":84},{"c":"全国","d":47,"v":71},{"c":"全国","d":50,"v":56},{"c":"全国","d":52,"v":54},{"c":"全国","d":55,"v":61},{"c":"全国","d":57,"v":56},{"c":"全国","d":61,"v":53},{"c":"全国","d":64,"v":53},{"c":"全国","d":67,"v":53},{"c":"全国","d":70,"v":56},{"c":"全国","d":73,"v":51},{"c":"全国","d":76,"v":44},{"c":"全国","d":79,"v":38},{"c":"全国","d":83,"v":36},{"c":"全国","d":86,"v":41},{"c":"全国","d":90,"v":41},{"c":"全国","d":93,"v":38},{"c":"全国","d":96,"v":36},{"c":"全国","d":100,"v":36},{"c":"全国","d":103,"v":32},{"c":"全国","d":106,"v":32},{"c":"全国","d":110,"v":34},{"c":"全国","d":113,"v":35},{"c":"全国","d":117,"v":38},{"c":"全国","d":120,"v":39},{"c":"全国","d":122,"v":48},{"c":"全国","d":125,"v":41},{"c":"全国","d":128,"v":38},{"c":"全国","d":130,"v":41},{"c":"全国","d":132,"v":48},{"c":"全国","d":134,"v":56},{"c":"全国","d":137,"v":57},{"c":"全国","d":140,"v":61},{"c":"全国","d":144,"v":61},{"c":"全国","d":147,"v":56},{"c":"全国","d":150,"v":56},{"c":"全国","d":153,"v":60},{"c":"全国","d":156,"v":77},{"c":"全国","d":160,"v":99},{"c":"全国","d":162,"v":82},{"c":"全国","d":166,"v":64},{"c":"全国","d":169,"v":62},{"c":"全国","d":172,"v":82},{"c":"全国","d":176,"v":90},{"c":"全国","d":178,"v":84},{"c":"全国","d":181,"v":86},{"c":"全国","d":186,"v":87},{"c":"全国","d":191,"v":86},{"c":"全国","d":196,"v":82},{"c":"全国","d":201,"v":80},{"c":"全国","d":205,"v":86},{"c":"全国","d":210,"v":94},{"c":"全国","d":213,"v":100},{"c":"全国","d":216,"v":136},{"c":"全国","d":220,"v":148},{"c":"全国","d":222,"v":153},{"c":"全国","d":223,"v":126},{"c":"全国","d":226,"v":90},{"c":"全国","d":230,"v":86},{"c":"全国","d":232,"v":100},{"c":"全国","d":235,"v":100},{"c":"全国","d":238,"v":97},{"c":"全国","d":243,"v":87},{"c":"全国","d":247,"v":69},{"c":"全国","d":250,"v":69},{"c":"全国","d":254,"v":107},{"c":"全国","d":256,"v":115},{"c":"全国","d":259,"v":112},{"c":"全国","d":260,"v":97},{"c":"全国","d":263,"v":53},{"c":"全国","d":266,"v":54},{"c":"全国","d":270,"v":86},{"c":"全国","d":271,"v":107},{"c":"全国","d":274,"v":77},{"c":"全国","d":279,"v":72},{"c":"全国","d":282,"v":67},{"c":"全国","d":286,"v":54},{"c":"全国","d":289,"v":49},{"c":"全国","d":293,"v":46},{"c":"全国","d":297,"v":48},{"c":"全国","d":303,"v":49},{"c":"全国","d":306,"v":51},{"c":"全国","d":309,"v":59}
       ]},
       "mark": {"type": "line", "strokeWidth": 1.5, "interpolate": "monotone"},
       "encoding": {
        "x": {"field": "d", "type": "quantitative", "scale": {"domain": [0, 309], "nice": false, "zero": false, "range": [35, 645]},
          "axis": {"offset": -17, "values": [0, 90, 181, 273], "labelExpr": "datum.value == 0 ? 'January 1, 2022' : datum.value == 90 ? 'April 1, 2022' : datum.value == 181 ? 'July 1, 2022' : 'October 1, 2022'", "title": null, "labelFlush": false, "labelFontSize": 7, "labelFontWeight": "bold", "labelColor": "#9a9a9a", "labelFont": "Lato", "domainColor": "#d0d0d0", "ticks": false, "labelPadding": 5}},
        "y": {"field": "v", "type": "quantitative", "scale": {"domain": [0, 160], "nice": false, "range": [212, 50]},
          "axis": {"offset": -35, "values": [0,20,40,60,80,100,120,140,160], "title": "恢复强度", "titleFontSize": 6.5, "titleColor": "#999", "titleFontWeight": "normal", "titlePadding": 5, "labelFontSize": 7, "labelColor": "#999", "labelFont": "Lato", "domain": false, "ticks": false, "labelPadding": 6}},
        "color": {"field": "c", "type": "nominal", "scale": {"domain": ["全国", "上海", "深圳", "北京"], "range": ["#5b9bd5", "#76b04a", "#f3d35e", "#e9a77b"]},
          "legend": {"orient": "none", "direction": "horizontal", "legendX": 2.6, "legendY": 21.5, "title": null, "symbolType": "circle", "symbolSize": 8, "symbolStrokeWidth": 4, "labelFontSize": 8.5, "labelColor": "#555", "labelOffset": 5, "columnPadding": 8}}
       }}
     ]
    },
    {"width": 10, "height": 1, "data": {"values": []}, "mark": "point", "encoding": {}},
    {"width": 658, "height": 2, "view": {"fill": "#52b4e8"}, "data": {"values": []}, "mark": "point", "encoding": {},
     "title": {"text": "来源：国金数字未来 Lab，国金证券研究所", "orient": "bottom", "anchor": "start", "frame": "group", "offset": 2, "fontSize": 9, "fontWeight": "normal", "color": "#333", "dx": 2}}
  ]},
  {"width": 1, "height": 100, "data": {"values": []}, "mark": "point", "encoding": {}},
  {"spacing": 0, "vconcat": [
    {"width": 669, "height": 2, "view": {"fill": "#52b4e8"}, "data": {"values": []}, "mark": "point", "encoding": {},
     "title": {"text": "- 3 -", "orient": "bottom", "anchor": "middle", "frame": "group", "offset": 1, "fontSize": 9, "fontWeight": "bold", "color": "#000", "font": "Liberation Sans"}},
    {"width": 669, "height": 1, "data": {"values": []}, "mark": "point", "encoding": {},
     "title": {"text": "敬请参阅最后一页特别声明", "orient": "bottom", "anchor": "start", "frame": "group", "offset": 3, "fontSize": 9.5, "fontWeight": "normal", "color": "#333", "dx": 10}}
  ]}
]
}
